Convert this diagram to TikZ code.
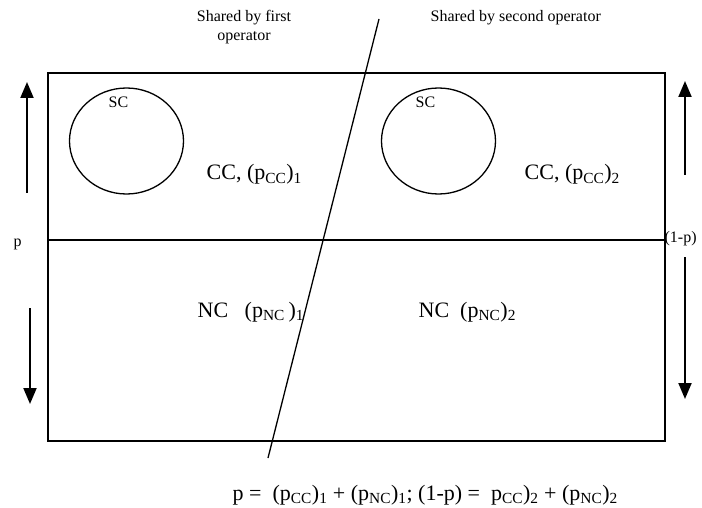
\documentclass[tikz,border=0pt]{standalone}
\usepackage{fontspec}
\setmainfont{Liberation Serif}
\usetikzlibrary{arrows.meta}
\newcommand{\bigtxt}{\fontsize{22}{26}\selectfont}
\newcommand{\smalltxt}{\fontsize{16}{19}\selectfont}
\begin{document}
\begin{tikzpicture}[x=1pt,y=-1pt,line width=1.3pt,
  lbl/.style={font=\bigtxt,anchor=base west,inner sep=0pt},
  note/.style={font=\smalltxt,inner sep=0pt},
  share/.style={-{Triangle[width=13pt,length=16pt]},line width=2pt}]
  \useasboundingbox (0,0) rectangle (702,508);
  \draw (48,73) rectangle (665,441);
  \draw (48,240) -- (665,240);
  \draw (379,19) -- (268,458);
  \draw (126.5,141) ellipse [x radius=57, y radius=53];
  \draw (438.5,141) ellipse [x radius=57, y radius=53];
  % texts
  \node[note,align=center,anchor=north] (first) at (244,10) {Shared by first\\operator};
  \node[note,anchor=base west] (second) at (430,22) {Shared by second operator};
  \node[note,anchor=base west] (sc1) at (108,108) {SC};
  \node[note,anchor=base west] (sc2) at (415,108) {SC};
  \node[lbl] (cc1) at (206,180) {CC, (p\textsubscript{CC})\textsubscript{1}};
  \node[lbl] (cc2) at (524,180) {CC, (p\textsubscript{CC})\textsubscript{2}};
  \node[lbl] (nc1) at (197,317) {NC\ \ \ (p\textsubscript{NC}\,)\textsubscript{1}};
  \node[lbl] (nc2) at (418,317) {NC\ \ (p\textsubscript{NC})\textsubscript{2}};
  \node[note,anchor=base west] (p) at (13,247) {p};
  \node[note,anchor=base west] (q) at (664,243) {(1-p)};
  \node[lbl] (sum) at (232,500) {p =\ \ (p\textsubscript{CC})\textsubscript{1} + (p\textsubscript{NC})\textsubscript{1}; (1-p) =\ \ p\textsubscript{CC})\textsubscript{2} + (p\textsubscript{NC})\textsubscript{2}};
  % arrows
  \coordinate (lu1) at (27,193); \coordinate (lu2) at (27,82);
  \coordinate (ld1) at (30,308); \coordinate (ld2) at (30,404);
  \coordinate (ru1) at (685,175); \coordinate (ru2) at (685,81);
  \coordinate (rd1) at (685,257); \coordinate (rd2) at (685,399);
  \draw[share] (lu1) -- (lu2);
  \draw[share] (ld1) -- (ld2);
  \draw[share] (ru1) -- (ru2);
  \draw[share] (rd1) -- (rd2);
\end{tikzpicture}
\end{document}
